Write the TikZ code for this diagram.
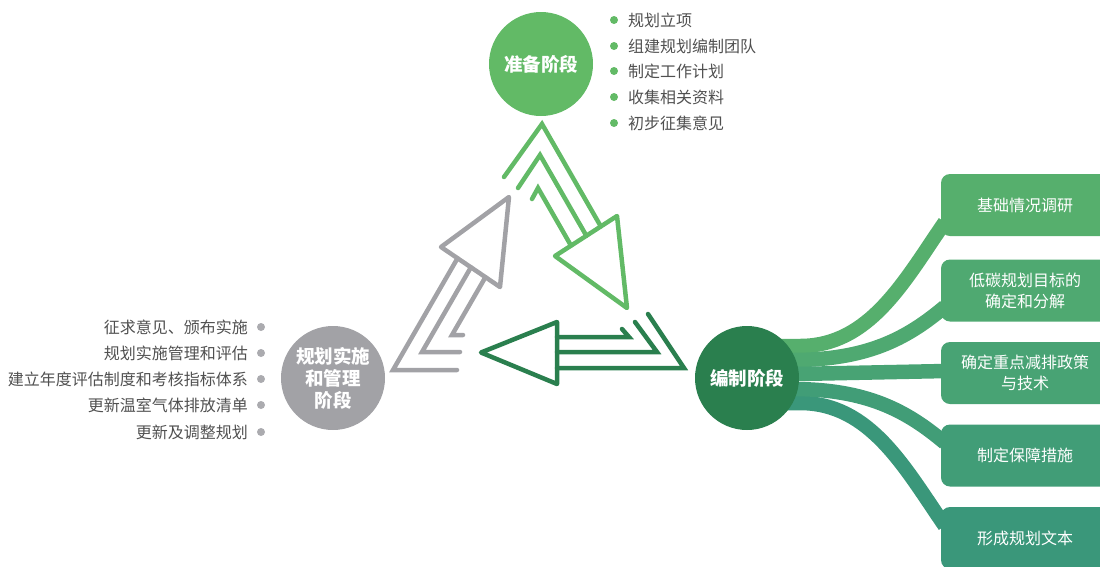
\documentclass[tikz,border=0pt]{standalone}
\usepackage{fontspec}
\setmainfont{Noto Sans CJK SC}
\usetikzlibrary{calc,backgrounds}
\definecolor{lgreen}{HTML}{62BA66}
\definecolor{dgreen}{HTML}{2A7F4E}
\definecolor{cgray}{HTML}{A2A2A6}
\definecolor{txt}{HTML}{505050}
\definecolor{bA}{HTML}{56AF6D}
\definecolor{bB}{HTML}{4FA971}
\definecolor{bC}{HTML}{48A374}
\definecolor{bD}{HTML}{419D77}
\definecolor{bE}{HTML}{3A977A}
\begin{document}
\begin{tikzpicture}[x=1pt,y=-1pt,
  stage/.style={circle, minimum size=104, inner sep=0, text=white, align=center,
    font=\fontsize{18.5}{22}\selectfont\bfseries},
  box/.style={rectangle, rounded corners=9, minimum width=168, minimum height=62,
    inner sep=0, text=white, align=center, font=\fontsize{16}{21}\selectfont},
  band/.style={line width=14.5, line cap=butt},
  arr/.style={line width=4.5, line cap=round, line join=miter},
  tri/.style={line width=4.5, line join=round},
  item/.style={inner sep=0, text=txt, font=\fontsize{16}{20}\selectfont},
  dotg/.style={circle, fill=lgreen, inner sep=0, minimum size=8},
  dotk/.style={circle, fill=cgray!90!white, inner sep=0, minimum size=8}
]
\useasboundingbox (0,0) rectangle (1100,566);

% boxes
\node[box, fill=bA] (b1) at (1025,205) {基础情况调研};
\node[box, fill=bB] (b2) at (1025,290.5) {低碳规划目标的\\确定和分解};
\node[box, fill=bC] (b3) at (1025,373) {确定重点减排政策\\与技术};
\node[box, fill=bD] (b4) at (1025,455.5) {制定保障措施};
\node[box, fill=bE] (b5) at (1025,538) {形成规划文本};

% stage circles
\node[stage, fill=lgreen] (zb) at (541,64) {准备阶段};
\node[stage, fill=cgray] (gl) at (333,378) {规划实施\\和管理\\阶段};
\node[stage, fill=dgreen] (bz) at (747,378) {编制阶段};

% bands
\begin{scope}[on background layer]
\draw[band, draw=bA] ($(bz.center)+(0,-32)$) -- ++(53,0)
  .. controls +(70,0) and +(-40,58) .. ($(b1.south west)+(4,-14)$);
\draw[band, draw=bE] ($(bz.center)+(0,25)$) -- ++(53,0)
  .. controls +(70,0) and +(-40,-58) .. ($(b5.north west)+(4,19)$);
\draw[band, draw=bB] ($(bz.center)+(0,-18)$) -- ++(45,0)
  .. controls +(75,0) and +(-38,32) .. ($(b2.south west)+(4,-15)$);
\draw[band, draw=bD] ($(bz.center)+(0,11)$) -- ++(45,0)
  .. controls +(75,0) and +(-38,-32) .. ($(b4.north west)+(4,18.5)$);
\draw[band, draw=bC] ($(bz.center)+(0,-3)$) -- ($(b3.west)+(5,-2)$);
\end{scope}

% light green arrow (top -> right)
\draw[arr, lgreen] (504,177) -- (542,124) -- (600.8,226.4);
\draw[arr, lgreen] (518,188) -- (540,155) -- (586.4,235.8);
\draw[arr, lgreen] (532,199) -- (538,188) -- (571,245.6);
\draw[tri, lgreen] (555,256) -- (617,216) -- (627,308) -- cycle;

% gray arrow (left -> top)
\draw[arr, cgray] (457,370) -- (393,370) -- (457.5,258.3);
\draw[arr, cgray] (460,352) -- (422,352) -- (470.9,267.3);
\draw[arr, cgray] (463,335) -- (452,335) -- (485.4,277.2);
\draw[tri, cgray] (441,247) -- (509,197) -- (500,287) -- cycle;

% dark green arrow (right -> left)
\draw[arr, dgreen] (648,314) -- (684,368) -- (557,368);
\draw[arr, dgreen] (635,322) -- (657,352) -- (557,352);
\draw[arr, dgreen] (622,329) -- (629,337) -- (557,337);
\draw[tri, dgreen] (557,322) -- (481,352.5) -- (557,384) -- cycle;

% top list
\node[dotg] (d1) at (614,20) {};
\node[item, anchor=west] (t1) at (628,20) {规划立项};
\node[dotg] (d2) at (614,46) {};
\node[item, anchor=west] (t2) at (628,46) {组建规划编制团队};
\node[dotg] (d3) at (614,71) {};
\node[item, anchor=west] (t3) at (628,71) {制定工作计划};
\node[dotg] (d4) at (614,97) {};
\node[item, anchor=west] (t4) at (628,97) {收集相关资料};
\node[dotg] (d5) at (614,123) {};
\node[item, anchor=west] (t5) at (628,123) {初步征集意见};

% left list
\node[dotk] (e1) at (261,327) {};
\node[item, anchor=east] (s1) at (248,327) {征求意见、颁布实施};
\node[dotk] (e2) at (261,353) {};
\node[item, anchor=east] (s2) at (248,353) {规划实施管理和评估};
\node[dotk] (e3) at (261,379) {};
\node[item, anchor=east] (s3) at (248,379) {建立年度评估制度和考核指标体系};
\node[dotk] (e4) at (261,405) {};
\node[item, anchor=east] (s4) at (248,405) {更新温室气体排放清单};
\node[dotk] (e5) at (261,432) {};
\node[item, anchor=east] (s5) at (248,432) {更新及调整规划};
\end{tikzpicture}
\end{document}
